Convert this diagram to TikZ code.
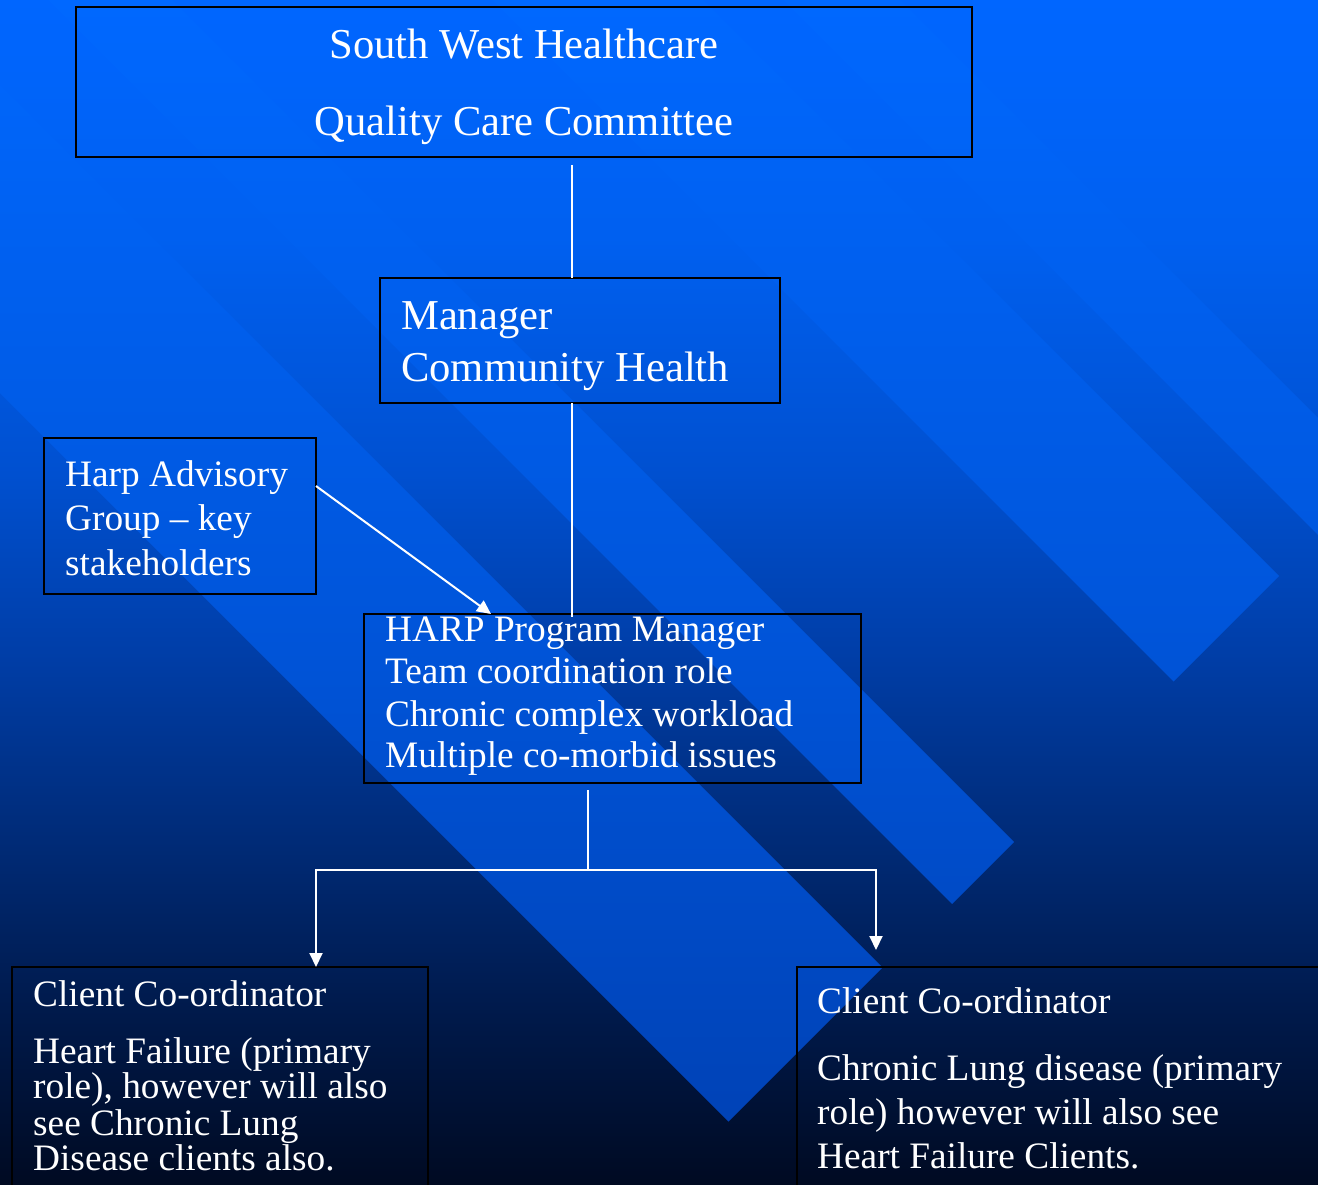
\documentclass[tikz,border=0pt]{standalone}
\usepackage{fontspec}
\setmainfont{Liberation Serif}
\usetikzlibrary{arrows.meta}
\definecolor{b0}{RGB}{0,102,255}
\definecolor{b1}{RGB}{0,96,240}
\definecolor{b2}{RGB}{0,80,208}
\definecolor{b3}{RGB}{0,62,168}
\definecolor{b4}{RGB}{0,44,122}
\definecolor{b5}{RGB}{0,26,76}
\definecolor{b6}{RGB}{0,10,34}
\definecolor{s0}{RGB}{0,104,255}
\definecolor{s1}{RGB}{0,86,220}
\definecolor{s2}{RGB}{0,64,178}
\pgfdeclareverticalshading{bgbase}{100bp}{color(0bp)=(b6); color(25bp)=(b6); color(32.5bp)=(b5); color(40bp)=(b4); color(47.5bp)=(b3); color(55bp)=(b2); color(65bp)=(b1); color(75bp)=(b0); color(100bp)=(b0)}
\pgfdeclareverticalshading{bandsh}{100bp}{color(0bp)=(s2); color(25bp)=(s2); color(50bp)=(s1); color(75bp)=(s0); color(100bp)=(s0)}
\begin{document}
\begin{tikzpicture}[x=1pt,y=-1pt,
  box/.style={draw=black, line width=2.5pt, inner sep=0pt, outer sep=0pt},
  conn/.style={draw=white, line width=2pt},
  arr/.style={conn, -{Triangle[length=14pt,width=13pt]}},
  big/.style={text=white, inner sep=0pt, font=\fontsize{42.6pt}{51pt}\selectfont},
  small/.style={text=white, inner sep=0pt, font=\fontsize{37.3pt}{44pt}\selectfont}]
\useasboundingbox (0,0) rectangle (1318,1185);
% background
\shade[shading=bgbase] (0,0) rectangle (1318,1185);
\begin{scope}
  \clip (-796.5,-403.5) -- (-642.5,-557.5) -- (882.5,967.5) -- (728.5,1121.5) -- cycle
        (-576,-624) -- (-514,-686) -- (1014,842) -- (952,904) -- cycle
        (-354,-846) -- (-248.5,-951.5) -- (1279,576) -- (1173.5,681.5) -- cycle
        (-208.5,-991.5) -- (-150,-1050) -- (1377.5,477.5) -- (1319,536) -- cycle;
  \shade[shading=bandsh] (0,0) rectangle (1318,1185);
\end{scope}
% boxes
\node[box, minimum width=896pt, minimum height=150pt] (top) at (524,82) {};
\node[box, minimum width=400pt, minimum height=125pt] (mgr) at (580,340.5) {};
\node[box, minimum width=272pt, minimum height=156pt] (adv) at (180,516) {};
\node[box, minimum width=497pt, minimum height=169pt] (harp) at (612.5,698.5) {};
\node[box, minimum width=416pt, minimum height=233pt] (cl) at (220,1083.5) {};
\node[box, minimum width=533pt, minimum height=233pt] (cr) at (1063.5,1083.5) {};
% connectors
\coordinate (c1) at (572,165);
\coordinate (c2) at (572,617);
\draw[conn] (c1) -- (c1 |- mgr.north);
\draw[conn] (c1 |- mgr.south) -- (c2);
\draw[arr] (adv.east |- 0,486) -- (491,0 |- harp.north);
\coordinate (j) at (588,870);
\coordinate (j0) at (588,790);
\coordinate (rt) at (876,950);
\draw[conn] (j0) -- (j);
\draw[arr] (j) -| (316,0 |- cl.north);
\draw[arr] (j) -| (rt);
% texts
\node[big, anchor=base] (t1) at (524,59) {South West Healthcare};
\node[big, anchor=base] (t2) at (524,136) {Quality Care Committee};
\node[big, anchor=base west] (m1) at (401,330) {Manager};
\node[big, anchor=base west] (m2) at (401,381) {Community Health};
\node[small, anchor=base west] (a1) at (65,486) {Harp Advisory};
\node[small, anchor=base west] (a2) at (65,530) {Group – key};
\node[small, anchor=base west] (a3) at (65,575) {stakeholders};
\node[small, anchor=base west] (h1) at (385,641) {HARP Program Manager};
\node[small, anchor=base west] (h2) at (385,683) {Team coordination role};
\node[small, anchor=base west] (h3) at (385,726) {Chronic complex workload};
\node[small, anchor=base west] (h4) at (385,767) {Multiple co-morbid issues};
\node[small, anchor=base west] (l1) at (33,1006) {Client Co-ordinator};
\node[small, anchor=base west] (l2) at (33,1063) {Heart Failure (primary};
\node[small, anchor=base west] (l3) at (33,1098) {role), however will also};
\node[small, anchor=base west] (l4) at (33,1135) {see Chronic Lung};
\node[small, anchor=base west] (l5) at (33,1170) {Disease clients also.};
\node[small, anchor=base west] (r1) at (817,1013) {Client Co-ordinator};
\node[small, anchor=base west] (r2) at (817,1080) {Chronic Lung disease (primary};
\node[small, anchor=base west] (r3) at (817,1124) {role) however will also see};
\node[small, anchor=base west] (r4) at (817,1168) {Heart Failure Clients.};
\end{tikzpicture}
\end{document}
